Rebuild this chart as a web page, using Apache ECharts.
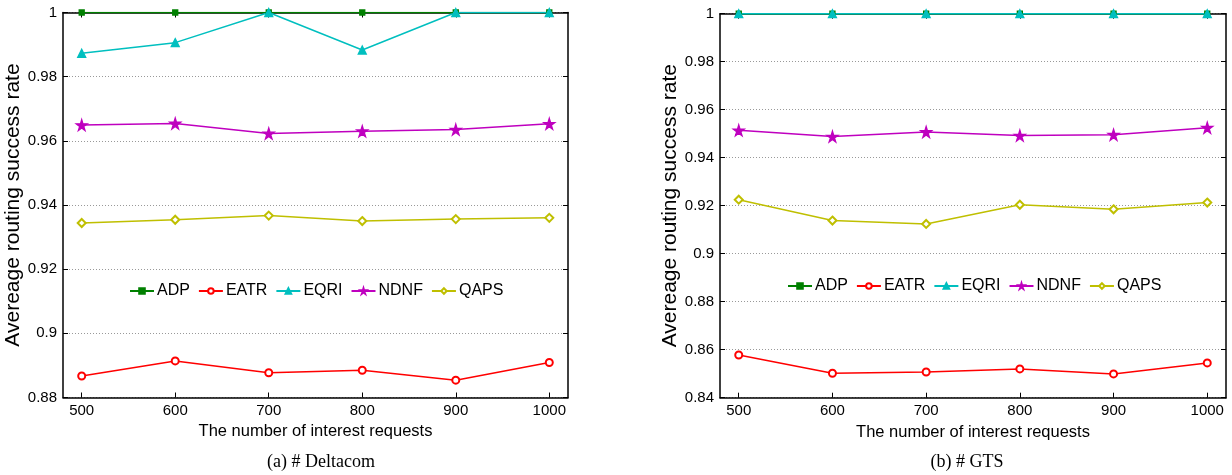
<!doctype html>
<html>
<head>
<meta charset="UTF-8">
<title>Routing success rate</title>
<script src="https://cdn.jsdelivr.net/npm/echarts@6/dist/echarts.min.js"></script>
<style>
  html, body { margin: 0; padding: 0; background: #fff; }
  #main { width: 1232px; height: 475px; }
</style>
</head>
<body>
<div id="main"></div>
<script>
// 数据
var requests = [500, 600, 700, 800, 900, 1000];
var seriesNames = ['ADP', 'EATR', 'EQRI', 'NDNF', 'QAPS'];

// (a) Deltacom
var adpA  = [1, 1, 1, 1, 1, 1];
var eatrA = [0.8867, 0.8914, 0.8877, 0.8885, 0.8854, 0.8909];
var eqriA = [0.9873, 0.9906, 1, 0.9883, 1, 1];
var ndnfA = [0.9649, 0.9654, 0.9623, 0.9630, 0.9635, 0.9653];
var qapsA = [0.9344, 0.9354, 0.9367, 0.9350, 0.9356, 0.9360];

// (b) GTS
var adpB  = [1, 1, 1, 1, 1, 1];
var eatrB = [0.8578, 0.8502, 0.8507, 0.8520, 0.8499, 0.8545];
var eqriB = [1, 1, 1, 1, 1, 1];
var ndnfB = [0.9514, 0.9488, 0.9507, 0.9492, 0.9496, 0.9525];
var qapsB = [0.9225, 0.9138, 0.9124, 0.9204, 0.9185, 0.9213];

var yTicksA = [0.88, 0.9, 0.92, 0.94, 0.96, 0.98, 1];
var yTicksB = [0.84, 0.86, 0.88, 0.9, 0.92, 0.94, 0.96, 0.98, 1];

var starPath = 'path://M50,0 L61,35 L98,35 L68,57 L79,91 L50,70 L21,91 L32,57 L2,35 L39,35 Z';

var styles = {
    ADP:  { color: '#008000', symbol: 'rect', size: 5 },
    EATR: { color: '#ff0000', symbol: 'emptyCircle', size: 7 },
    EQRI: { color: '#00bfbf', symbol: 'triangle', size: 8 },
    NDNF: { color: '#bf00bf', symbol: starPath, size: 11 },
    QAPS: { color: '#bfbf00', symbol: 'emptyDiamond', size: 8 }
};

var font = 'Liberation Sans';

function pairs(vals) {
    return requests.map(function (x, i) { return [x, vals[i]]; });
}

function plain(v) { return String(v); }

function makeSeries(name, vals, xi, yi) {
    var s = styles[name];
    return {
        name: name,
        type: 'line',
        xAxisIndex: xi,
        yAxisIndex: yi,
        data: pairs(vals),
        symbol: s.symbol,
        symbolSize: s.size,
        showAllSymbol: true,
        lineStyle: { color: s.color, width: 1.5 },
        itemStyle: { color: s.color, borderColor: s.color, borderWidth: 1.3 },
        emphasis: { disabled: true },
        animation: false
    };
}

function bottomAxis(grid) {
    return {
        type: 'value', gridIndex: grid, min: 480, max: 1020,
        name: 'The number of interest requests',
        nameLocation: 'middle', nameGap: 22,
        nameTextStyle: { color: '#000', fontSize: 16.5, fontFamily: font },
        axisLine: { show: true, lineStyle: { color: '#000', width: 1.5 } },
        axisTick: { show: true, inside: true, length: 5, customValues: requests, lineStyle: { color: '#000' } },
        axisLabel: { color: '#000', fontSize: 15, fontFamily: font, margin: 6, customValues: requests, formatter: plain },
        splitLine: { show: false }
    };
}

function topAxis(grid) {
    return {
        type: 'value', gridIndex: grid, min: 480, max: 1020, position: 'top',
        axisLine: { show: true, lineStyle: { color: '#000', width: 1.5 } },
        axisTick: { show: true, inside: true, length: 5, customValues: requests, lineStyle: { color: '#000' } },
        axisLabel: { show: false },
        splitLine: { show: false }
    };
}

function leftAxis(grid, ticks) {
    return {
        type: 'value', gridIndex: grid, min: ticks[0], max: 1, interval: 0.02,
        name: 'Avereage routing success rate',
        nameLocation: 'middle', nameGap: 33, nameRotate: 90,
        nameTextStyle: { color: '#000', fontSize: 21, fontFamily: font },
        axisLine: { show: true, lineStyle: { color: '#000', width: 1.5 } },
        axisTick: { show: true, inside: true, length: 5, customValues: ticks, lineStyle: { color: '#000' } },
        axisLabel: { color: '#000', fontSize: 15, fontFamily: font, margin: 6, customValues: ticks, formatter: plain },
        splitLine: { show: true, lineStyle: { color: '#999', type: [1, 2], width: 1 } }
    };
}

function rightAxis(grid, ticks) {
    return {
        type: 'value', gridIndex: grid, min: ticks[0], max: 1, interval: 0.02, position: 'right',
        axisLine: { show: true, lineStyle: { color: '#000', width: 1.5 } },
        axisTick: { show: true, inside: true, length: 5, customValues: ticks, lineStyle: { color: '#000' } },
        axisLabel: { show: false },
        splitLine: { show: false }
    };
}

function legendAt(left, top) {
    return {
        left: left, top: top,
        orient: 'horizontal',
        data: seriesNames,
        itemWidth: 24, itemHeight: 7, itemGap: 8,
        textStyle: { color: '#000', fontSize: 16, fontFamily: font, padding: [0, 0, 0, -2] },
        selectedMode: false
    };
}

var myChart = echarts.init(document.getElementById('main'));

var option = {
    backgroundColor: '#fff',
    animation: false,
    title: [
        { text: '(a) # Deltacom', left: 316, top: 448, textAlign: 'center',
          textStyle: { fontFamily: 'Liberation Serif', fontSize: 18, fontWeight: 'normal', color: '#000' } },
        { text: '(b) # GTS', left: 962, top: 448, textAlign: 'center',
          textStyle: { fontFamily: 'Liberation Serif', fontSize: 18, fontWeight: 'normal', color: '#000' } }
    ],
    legend: [legendAt(124, 278), legendAt(782, 273)],
    grid: [
        { left: 63, right: 664, top: 12.5, height: 385 },
        { left: 720, right: 6, top: 13.7, height: 384 }
    ],
    xAxis: [bottomAxis(0), topAxis(0), bottomAxis(1), topAxis(1)],
    yAxis: [leftAxis(0, yTicksA), rightAxis(0, yTicksA), leftAxis(1, yTicksB), rightAxis(1, yTicksB)],
    series: [
        makeSeries('ADP', adpA, 0, 0),
        makeSeries('EATR', eatrA, 0, 0),
        makeSeries('EQRI', eqriA, 0, 0),
        makeSeries('NDNF', ndnfA, 0, 0),
        makeSeries('QAPS', qapsA, 0, 0),
        makeSeries('ADP', adpB, 2, 2),
        makeSeries('EATR', eatrB, 2, 2),
        makeSeries('EQRI', eqriB, 2, 2),
        makeSeries('NDNF', ndnfB, 2, 2),
        makeSeries('QAPS', qapsB, 2, 2)
    ]
};

myChart.setOption(option);
</script>
</body>
</html>
